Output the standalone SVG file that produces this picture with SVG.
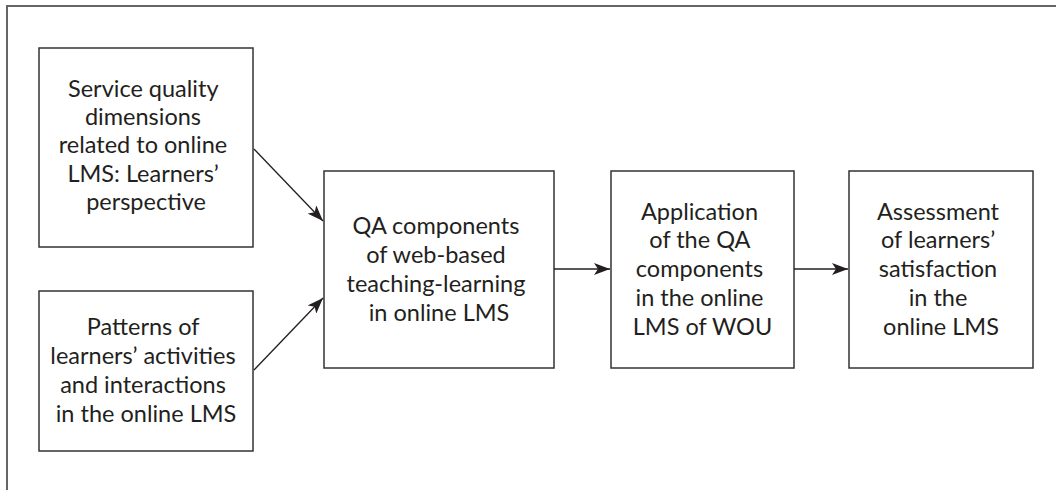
<svg xmlns="http://www.w3.org/2000/svg" width="1056" height="490" viewBox="0 0 1056 490">
  <defs>
    <marker id="arrow" viewBox="0 0 16 12" refX="16" refY="6" markerWidth="16" markerHeight="12" markerUnits="userSpaceOnUse" orient="auto">
      <path d="M0,0 L16,6 L0,12 L4,6 Z" fill="#231f20"/>
    </marker>
    <style>
      .frame { stroke: #666666; stroke-width: 2; fill: none; }
      .box { fill: #ffffff; stroke: #333333; stroke-width: 1.5; }
      .label { font-family: Lato, "Open Sans", sans-serif; font-size: 23.5px; fill: #231f20; text-anchor: middle; }
      .link { stroke: #231f20; stroke-width: 1.3; fill: none; marker-end: url(#arrow); }
    </style>
  </defs>
  <rect width="1056" height="490" fill="#ffffff"/>

  <!-- outer frame: top and left edges only -->
  <path class="frame" d="M7,490 L7,6 L1056,6"/>

  <g id="node-service-quality">
    <rect class="box" x="39" y="48" width="214" height="199"/>
    <text class="label">
      <tspan x="146" y="97">Service quality</tspan>
      <tspan x="146" y="125">dimensions</tspan>
      <tspan x="146" y="153">related to online</tspan>
      <tspan x="146" y="182">LMS: Learners’</tspan>
      <tspan x="146" y="210">perspective</tspan>
    </text>
  </g>

  <g id="node-patterns">
    <rect class="box" x="39" y="291" width="214" height="160"/>
    <text class="label">
      <tspan x="146" y="335">Patterns of</tspan>
      <tspan x="146" y="364">learners’ activities</tspan>
      <tspan x="146" y="393">and interactions</tspan>
      <tspan x="146" y="422">in the online LMS</tspan>
    </text>
  </g>

  <g id="node-qa-components">
    <rect class="box" x="324" y="171" width="230" height="197"/>
    <text class="label">
      <tspan x="439" y="234">QA components</tspan>
      <tspan x="439" y="263">of web-based</tspan>
      <tspan x="439" y="292">teaching-learning</tspan>
      <tspan x="439" y="321">in online LMS</tspan>
    </text>
  </g>

  <g id="node-application">
    <rect class="box" x="611" y="171" width="183" height="197"/>
    <text class="label">
      <tspan x="702.5" y="220">Application</tspan>
      <tspan x="702.5" y="248">of the QA</tspan>
      <tspan x="702.5" y="277">components</tspan>
      <tspan x="702.5" y="306">in the online</tspan>
      <tspan x="702.5" y="335">LMS of WOU</tspan>
    </text>
  </g>

  <g id="node-assessment">
    <rect class="box" x="849" y="171" width="184" height="197"/>
    <text class="label">
      <tspan x="941" y="220">Assessment</tspan>
      <tspan x="941" y="248">of learners’</tspan>
      <tspan x="941" y="277">satisfaction</tspan>
      <tspan x="941" y="306">in the</tspan>
      <tspan x="941" y="335">online LMS</tspan>
    </text>
  </g>

  <g id="connectors">
    <line class="link" x1="254" y1="149" x2="323" y2="221"/>
    <line class="link" x1="254" y1="370" x2="323" y2="298"/>
    <line class="link" x1="554" y1="269" x2="610" y2="269"/>
    <line class="link" x1="794" y1="269" x2="848" y2="269"/>
  </g>
</svg>
